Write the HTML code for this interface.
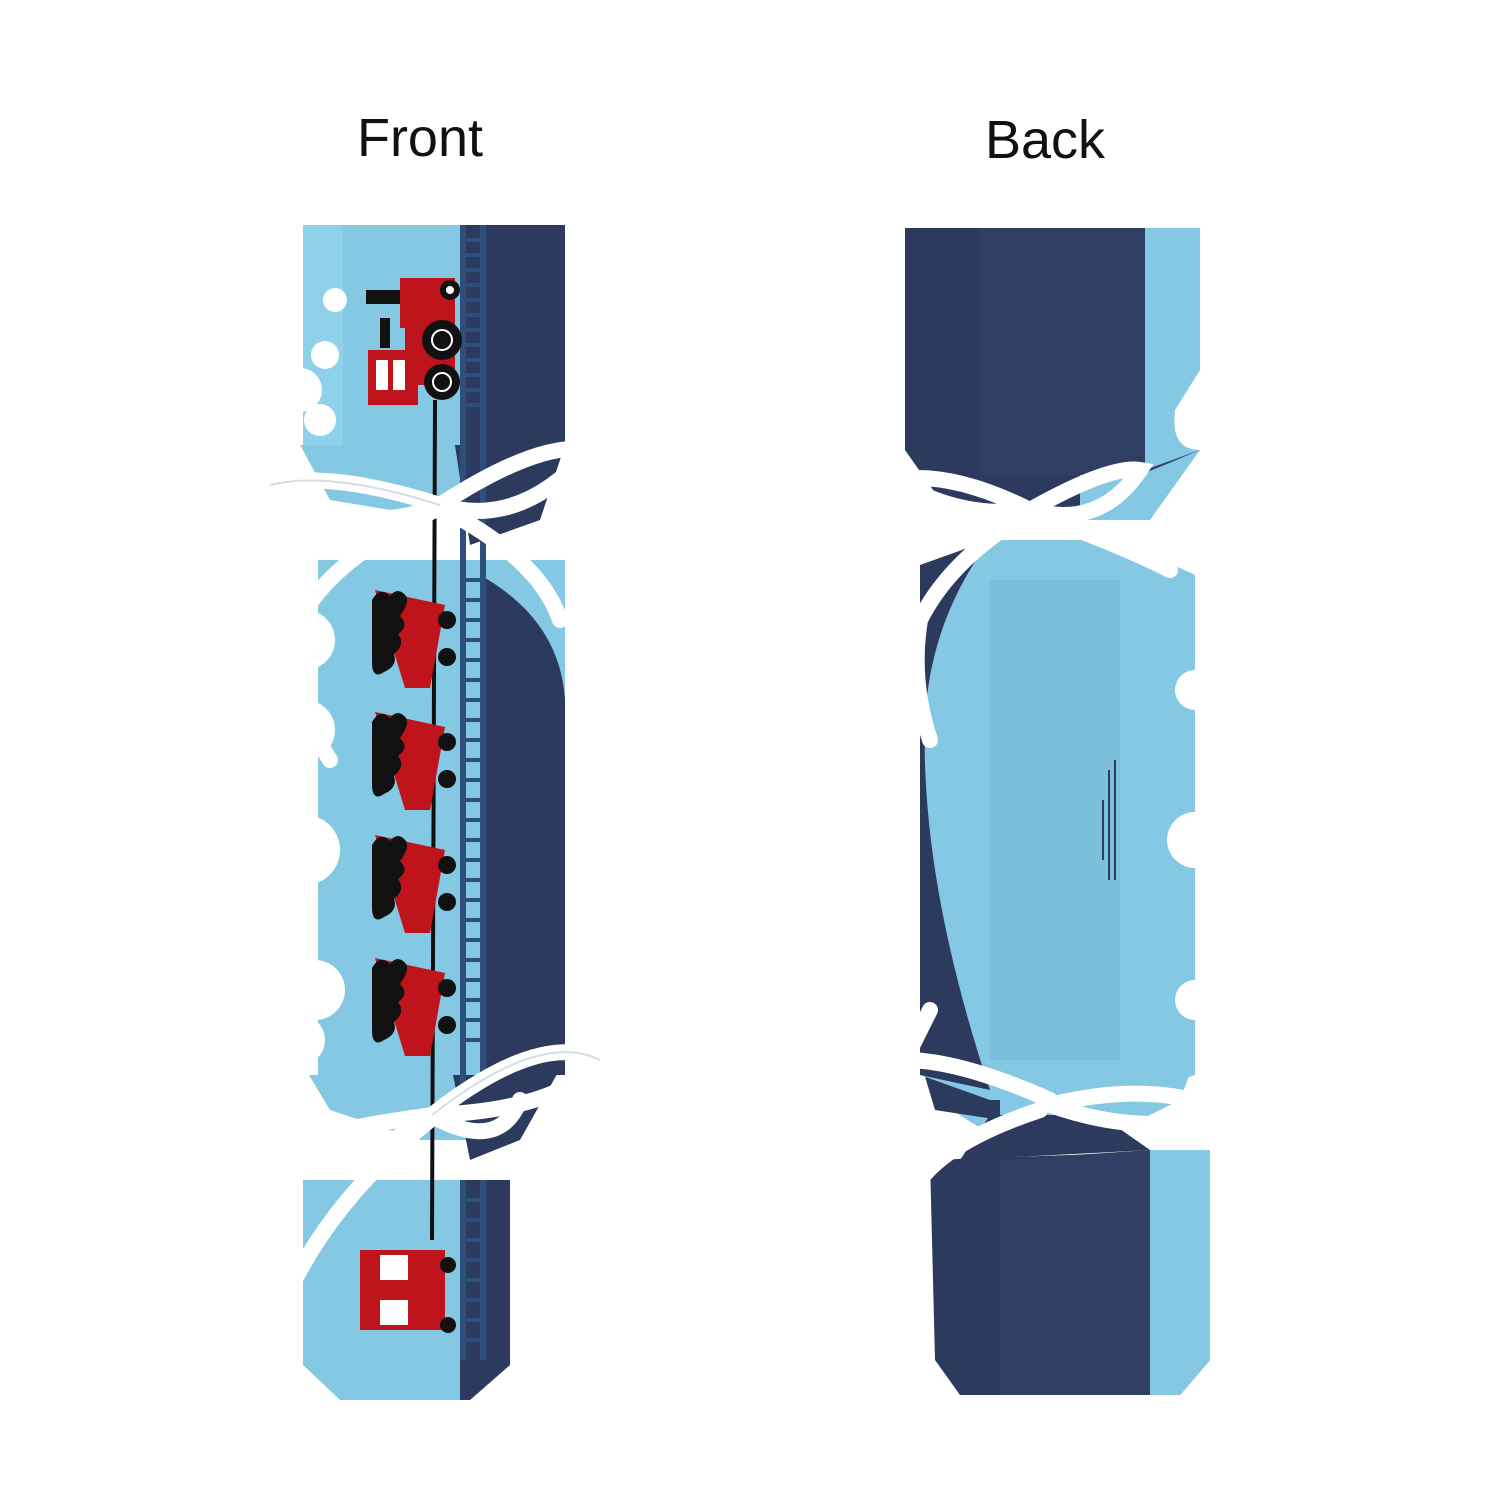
<!DOCTYPE html>
<html><head><meta charset="utf-8"><style>
html,body{margin:0;padding:0;background:#fff;width:1500px;height:1500px;overflow:hidden}
</style></head><body>
<svg width="1500" height="1500" viewBox="0 0 1500 1500" xmlns="http://www.w3.org/2000/svg">
<rect width="1500" height="1500" fill="#fff"/>
<text x="420" y="156" font-family="Liberation Sans, sans-serif" font-size="54" text-anchor="middle" fill="#111">Front</text>
<text x="1045" y="158" font-family="Liberation Sans, sans-serif" font-size="54" text-anchor="middle" fill="#111">Back</text>

<!-- FRONT -->
<!-- necks -->
<polygon points="300,445 565,445 540,500 470,520 420,515 330,500" fill="#85c8e3"/>
<polygon points="455,445 565,445 540,520 470,545" fill="#2c3a5e"/>
<polygon points="300,1060 565,1060 520,1110 470,1140 420,1140 330,1110" fill="#85c8e3"/>
<polygon points="450,1060 565,1060 520,1140 470,1160" fill="#2c3a5e"/>
<!-- top section -->
<polygon points="303,225 565,225 565,445 303,445" fill="#85c8e3"/>
<polygon points="460,225 565,225 565,445 480,460 460,445" fill="#2c3a5e"/>
<rect x="303" y="225" width="40" height="220" fill="#8fd0ea"/>
<!-- middle section -->
<polygon points="290,560 565,560 565,1075 290,1075" fill="#85c8e3"/>
<path d="M480,575 Q560,620 565,700 L565,1075 L480,1075 Z" fill="#2c3a5e"/>
<rect x="290" y="560" width="28" height="515" fill="#fff"/>
<!-- bottom section -->
<polygon points="303,1180 510,1180 510,1365 470,1400 340,1400 303,1365" fill="#85c8e3"/>
<polygon points="460,1180 510,1180 510,1365 470,1400 460,1400" fill="#2c3a5e"/>
<!-- track -->
<g fill="#2c4f7c">
<rect x="460" y="225" width="6" height="860"/><rect x="480" y="225" width="6" height="860"/>
<rect x="460" y="1180" width="6" height="180"/><rect x="480" y="1180" width="6" height="180"/>
</g>
<g stroke="#2c4f7c" stroke-width="4">
<path d="M460,240 H486 M460,255 H486 M460,270 H486 M460,285 H486 M460,300 H486 M460,315 H486 M460,330 H486 M460,345 H486 M460,360 H486 M460,375 H486 M460,390 H486 M460,405 H486"/>
<path d="M460,580 H486 M460,600 H486 M460,620 H486 M460,640 H486 M460,660 H486 M460,680 H486 M460,700 H486 M460,720 H486 M460,740 H486 M460,760 H486 M460,780 H486 M460,800 H486 M460,820 H486 M460,840 H486 M460,860 H486 M460,880 H486 M460,900 H486 M460,920 H486 M460,940 H486 M460,960 H486 M460,980 H486 M460,1000 H486 M460,1020 H486 M460,1040 H486"/>
<path d="M460,1200 H486 M460,1220 H486 M460,1240 H486 M460,1260 H486 M460,1280 H486 M460,1300 H486 M460,1320 H486 M460,1340 H486"/>
</g>
<line x1="435" y1="400" x2="432" y2="1240" stroke="#111" stroke-width="4"/>
<!-- clouds -->
<g fill="#fff">
<circle cx="335" cy="300" r="12"/><circle cx="325" cy="355" r="14"/><circle cx="300" cy="390" r="22"/><circle cx="320" cy="420" r="16"/>
<circle cx="305" cy="640" r="30"/><circle cx="305" cy="730" r="30"/><circle cx="305" cy="850" r="35"/><circle cx="315" cy="990" r="30"/><circle cx="300" cy="1040" r="25"/>
</g>
<!-- engine -->
<g>
<rect x="400" y="278" width="55" height="50" fill="#c0141c"/>
<rect x="368" y="350" width="50" height="55" fill="#c0141c"/>
<rect x="376" y="360" width="12" height="30" fill="#fff"/><rect x="393" y="360" width="12" height="30" fill="#fff"/>
<rect x="405" y="325" width="50" height="60" fill="#c0141c"/>
<rect x="366" y="290" width="34" height="14" fill="#111"/><rect x="380" y="318" width="10" height="30" fill="#111"/>
<circle cx="450" cy="290" r="10" fill="#111"/><circle cx="450" cy="290" r="4" fill="#fff"/>
<circle cx="442" cy="340" r="20" fill="#111"/><circle cx="442" cy="340" r="10" fill="none" stroke="#fff" stroke-width="2"/>
<circle cx="442" cy="382" r="18" fill="#111"/><circle cx="442" cy="382" r="9" fill="none" stroke="#fff" stroke-width="2"/>
</g>
<!-- coal cars -->
<g id="car">
<polygon points="375,590 445,605 430,688 405,688" fill="#c0141c"/>
<path d="M372,600 q8,-14 18,-4 q8,-10 16,0 q4,6 -6,20 q10,10 -2,18 q8,10 -4,20 q4,12 -10,18 q-12,8 -12,-10 Z" fill="#111"/>
<circle cx="447" cy="620" r="9" fill="#111"/><circle cx="447" cy="657" r="9" fill="#111"/>
</g>
<use href="#car" y="122"/><use href="#car" y="245"/><use href="#car" y="368"/>
<!-- caboose -->
<rect x="360" y="1250" width="85" height="80" fill="#c0141c"/>
<rect x="380" y="1255" width="28" height="25" fill="#fff"/><rect x="380" y="1300" width="28" height="25" fill="#fff"/>
<circle cx="448" cy="1265" r="8" fill="#111"/><circle cx="448" cy="1325" r="8" fill="#111"/>
<!-- ribbons front -->
<g fill="none" stroke="#fff" stroke-width="16" stroke-linecap="round">
<path d="M440,505 Q330,470 270,485 Q360,540 440,505"/>
<path d="M440,505 Q540,440 590,450 Q520,530 440,505"/>
<path d="M435,510 Q330,560 300,620 Q290,700 330,760"/>
<path d="M445,510 Q540,560 560,620"/>
<path d="M432,1115 Q320,1130 225,1160 Q330,1190 432,1115"/>
<path d="M432,1115 Q540,1030 600,1060 Q560,1110 432,1115"/>
<path d="M430,1120 Q330,1200 285,1300"/>
<path d="M440,1120 Q500,1150 520,1100"/>
</g>
<g fill="none" stroke="#d6dde8" stroke-width="2">
<path d="M440,505 Q330,470 270,485"/><path d="M432,1115 Q540,1030 600,1060"/>
</g>

<!-- BACK -->
<polygon points="905,450 1200,450 1160,500 1100,520 1000,520 940,500" fill="#2c3a5e"/>
<polygon points="1080,470 1200,450 1150,520 1080,520" fill="#85c8e3"/>
<polygon points="905,228 1200,228 1200,450 1140,475 960,475 905,450" fill="#2c3a5e"/>
<polygon points="980,228 1200,228 1200,450 1140,475 980,475" fill="#2f3e63"/>
<polygon points="1145,228 1200,228 1200,450 1145,470" fill="#85c8e3"/>
<path d="M1175,410 q25,-40 25,-40 v80 q-30,0 -25,-40 Z" fill="#fff"/>
<!-- middle back -->
<polygon points="920,1060 1195,1060 1180,1100 1100,1140 1000,1140 935,1100" fill="#85c8e3"/>
<polygon points="920,1060 1000,1060 1000,1120 935,1110" fill="#2c3a5e"/>
<polygon points="920,565 990,540 1120,540 1195,575 1195,1075 1120,1100 990,1100 920,1075" fill="#85c8e3"/>
<path d="M920,565 L990,540 Q930,620 925,720 Q920,880 990,1090 L920,1075 Z" fill="#2c3a5e"/>
<polygon points="990,580 1120,580 1120,1060 990,1060" fill="#7ac0da"/>
<g fill="#fff"><circle cx="1195" cy="690" r="20"/><circle cx="1195" cy="840" r="28"/><circle cx="1195" cy="1000" r="20"/></g>
<g stroke="#2c3a5e" stroke-width="2"><line x1="1115" y1="760" x2="1115" y2="880"/><line x1="1109" y1="770" x2="1109" y2="880"/><line x1="1103" y1="800" x2="1103" y2="860"/></g>
<!-- bottom back -->
<polygon points="930,1160 1210,1150 1210,1360 1180,1395 960,1395 935,1360" fill="#2c3a5e"/>
<polygon points="1000,1160 1150,1150 1150,1395 1000,1395" fill="#2f3e63"/>
<polygon points="1150,1150 1210,1150 1210,1360 1180,1395 1150,1395" fill="#85c8e3"/>
<polygon points="990,1115 1100,1115 1150,1150 960,1160" fill="#2c3a5e"/>
<!-- ribbons back -->
<g fill="none" stroke="#fff" stroke-width="16" stroke-linecap="round">
<path d="M1030,510 Q950,470 895,480 Q960,520 1030,510"/>
<path d="M1030,510 Q1110,465 1140,470 Q1100,530 1030,510"/>
<path d="M1025,515 Q950,560 920,620 Q910,680 930,740"/>
<path d="M1035,515 Q1110,540 1170,570"/>
<path d="M1050,1100 Q960,1060 905,1060 Q920,1030 930,1010"/>
<path d="M1050,1105 Q1150,1080 1225,1110 Q1150,1140 1050,1105"/>
<path d="M1040,1110 Q950,1140 920,1180 Q910,1210 910,1230"/>
</g>
</svg>
</body></html>
